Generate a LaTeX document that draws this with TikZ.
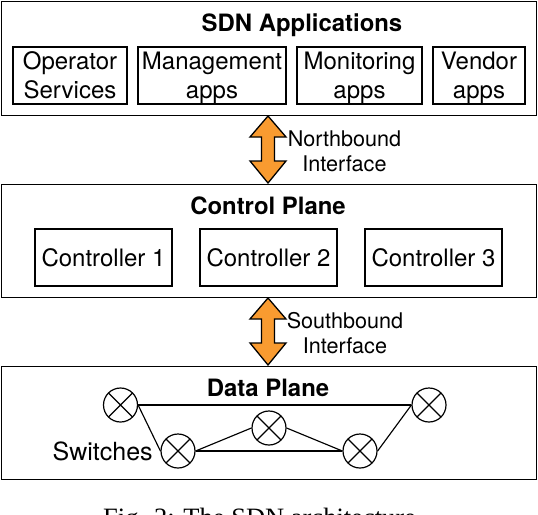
\documentclass[tikz,border=0pt]{standalone}
\usepackage{fontspec}
\setmainfont{TeX Gyre Heros}
\newfontfamily\capfont{Liberation Serif}
\definecolor{arrowfill}{HTML}{F99B30}
\tikzset{
  x=1pt,y=-1pt,
  box/.style={draw=black,line width=1.4pt,fill=white,inner sep=0pt},
  inbox/.style={box,minimum height=57pt},
  intext/.style={inner sep=0pt,align=center,yshift=-2.6pt,font=\fontsize{24}{29}\selectfont},
  ctrltext/.style={inner sep=0pt,font=\fontsize{24}{29}\selectfont},
  title/.style={inner sep=0pt,font=\fontsize{23.9}{28}\selectfont\bfseries},
  lab/.style={inner sep=0pt,align=center,font=\fontsize{21.6}{25}\selectfont},
  sw/.style={circle,draw=black,line width=1.2pt,minimum size=34pt,inner sep=0pt,fill=white,
    path picture={\draw[line width=1.2pt] (path picture bounding box.north west)--(path picture bounding box.south east)
      (path picture bounding box.north east)--(path picture bounding box.south west);}},
  link/.style={line width=1.15pt},
  dbl/.style={draw=black,line width=1.3pt,fill=arrowfill,line join=miter},
}
\newcommand{\dblarrow}[2]{\draw[dbl] (268,#1) -- (286,#1+21) -- (274.5,#1+21) -- (274.5,#2-22) -- (286,#2-22) -- (268,#2) -- (250,#2-22) -- (261.5,#2-22) -- (261.5,#1+21) -- (250,#1+21) -- cycle;}
\begin{document}
\begin{tikzpicture}
\useasboundingbox (0,0) rectangle (538,514);
\begin{scope}
\clip (0,0) rectangle (538,514);
% outer boxes
\node[box,minimum width=535pt,minimum height=114pt,anchor=north west] (apps) at (1,1) {};
\node[box,minimum width=535pt,minimum height=113pt,anchor=north west] (ctrl) at (1,184) {};
\node[box,minimum width=535pt,minimum height=113pt,anchor=north west] (data) at (1,366) {};
% titles
\node[title] (t1) at (302,25) {SDN Applications};
\node[title] (t2) at (268,206) {Control Plane};
\node[title] (t3) at (268,388) {Data Plane};
% application boxes
\node[inbox,minimum width=114pt] (a1) at (70,75.5) {};
\node[inbox,minimum width=148pt] (a2) at (212,75.5) {};
\node[inbox,minimum width=125pt] (a3) at (359.5,75.5) {};
\node[inbox,minimum width=92pt] (a4) at (479,75.5) {};
\node[intext] (a1t) at (a1) {\strut Operator\\\strut Services};
\node[intext] (a2t) at (a2) {\strut Management\\\strut apps};
\node[intext] (a3t) at (a3) {\strut Monitoring\\\strut apps};
\node[intext] (a4t) at (a4) {\strut Vendor\\\strut apps};
% controllers
\node[inbox,minimum width=137pt] (c1) at (103.5,257.5) {};
\node[inbox,minimum width=137pt] (c2) at (268.5,257.5) {};
\node[inbox,minimum width=137pt] (c3) at (433.5,257.5) {};
\node[ctrltext] (c1t) at (c1) {Controller 1};
\node[ctrltext] (c2t) at (c2) {Controller 2};
\node[ctrltext] (c3t) at (c3) {Controller 3};
% arrows
\dblarrow{116}{183}
\dblarrow{298}{365}
\node[lab] (nb) at (344.5,151) {Northbound\\Interface};
\node[lab] (sb) at (345,333) {Southbound\\Interface};
% switches
\node[sw] (s1) at (120.5,405) {};
\node[sw] (s2) at (178,451) {};
\node[sw] (s3) at (269,428) {};
\node[sw] (s4) at (360,451) {};
\node[sw] (s5) at (429,405) {};
\draw[link] (s1.east) -- (s5.west);
\draw[link] (s1.east) -- (s2.west);
\draw[link] (s2.east) -- (s3.west);
\draw[link] (s2.east) -- (s4.west);
\draw[link] (s3.east) -- (s4.west);
\draw[link] (s4.east) -- (s5.west);
\node[inner sep=0pt,anchor=base west,font=\fontsize{25}{28}\selectfont] (swl) at (52.5,460) {Switches};
% caption
\node[inner sep=0pt,anchor=base west,font=\capfont\fontsize{26.5}{30}\selectfont] (cap) at (103,526) {Fig. 2: The SDN architecture.};
\end{scope}
\end{tikzpicture}
\end{document}
